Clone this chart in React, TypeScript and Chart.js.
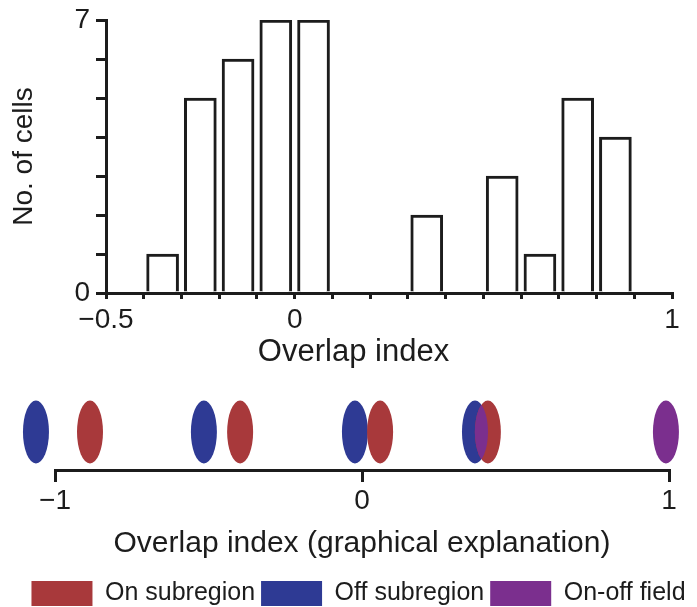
import React, { useEffect, useRef } from "react";
import { Chart, registerables } from "chart.js";

Chart.register(...registerables);

// ---- Histogram of overlap index ----
const binCenters = [-0.45, -0.35, -0.25, -0.15, -0.05, 0.05, 0.15, 0.25, 0.35, 0.45, 0.55, 0.65, 0.75, 0.85, 0.95];
const cellCounts = [0, 1, 5, 6, 7, 7, 0, 0, 2, 0, 3, 1, 5, 4, 0];
const histXLabels: Record<string, string> = { "-0.5": "\u22120.5", "0": "0", "1": "1" };
const histYLabels: Record<string, string> = { "0": "0", "7": "7" };

// ---- Graphical explanation: subregion centres along the overlap index ----
const onSubregion = [-0.886, -0.397, 0.059, 0.41];
const offSubregion = [-1.062, -0.515, -0.023, 0.368];
const onOffField = [0.99];
const explXLabels: Record<string, string> = { "-1": "\u22121", "0": "0", "1": "1" };

const FONT = "'Liberation Sans', Arial, Helvetica, sans-serif";
const INK = "#1c1c1c";
const RED = "#a8393b";
const BLUE = "#2e3a94";
const PURPLE = "#7b2f8e";
const RX = 13;
const RY = 31.5;

const labelFor = (map: Record<string, string>) => (v: number | string) => {
  const n = Math.round(Number(v) * 10) / 10;
  const key = String(Object.is(n, -0) ? 0 : n);
  return map[key] ?? "";
};

const ellipsePath = (ctx: CanvasRenderingContext2D, x: number, y: number) => {
  ctx.beginPath();
  ctx.ellipse(x, y, RX, RY, 0, 0, Math.PI * 2);
};

// Draws each field as an upright ellipse; where an On and an Off subregion
// overlap, the shared part is shown in the On-off colour.
const fieldEllipses = {
  id: "fieldEllipses",
  afterDatasetsDraw(chart: any) {
    const { ctx } = chart;
    const pts = (i: number) =>
      chart.getDatasetMeta(i).data.map((p: any) => ({ x: p.x, y: p.y }));
    const on = pts(0);
    const off = pts(1);
    const both = pts(2);
    ctx.save();
    const fillAll = (list: { x: number; y: number }[], color: string) => {
      list.forEach((p) => {
        ellipsePath(ctx, p.x, p.y);
        ctx.fillStyle = color;
        ctx.fill();
      });
    };
    fillAll(off, BLUE);
    fillAll(on, RED);
    fillAll(both, PURPLE);
    off.forEach((b: any) => {
      on.forEach((r: any) => {
        if (Math.abs(b.x - r.x) < 2 * RX - 2) {
          ctx.save();
          ellipsePath(ctx, b.x, b.y);
          ctx.clip();
          ellipsePath(ctx, r.x, r.y);
          ctx.fillStyle = PURPLE;
          ctx.fill();
          ctx.restore();
        }
      });
    });
    ctx.restore();
  },
};

const spacerAxis = (width: number, position: "left" | "right") => ({
  type: "linear" as const,
  position,
  min: -1,
  max: 1,
  ticks: { display: false },
  grid: { display: false },
  border: { display: false },
  afterFit(scale: any) {
    scale.width = width;
    scale.paddingTop = 0;
    scale.paddingBottom = 0;
  },
});

export default function App() {
  const topRef = useRef<HTMLCanvasElement>(null);
  const bottomRef = useRef<HTMLCanvasElement>(null);

  useEffect(() => {
    const hist = new Chart(topRef.current!, {
      type: "bar",
      data: {
        datasets: [
          {
            label: "No. of cells",
            data: binCenters.map((x, i) => ({ x, y: cellCounts[i] })),
            backgroundColor: "#ffffff",
            borderColor: INK,
            borderWidth: (c: any) => (c.raw && c.raw.y > 0 ? 3 : 0),
            barThickness: 32,
          },
        ],
      },
      options: {
        responsive: false,
        animation: false,
        events: [],
        layout: { padding: { left: 10, right: 0, top: 20, bottom: 0 } },
        plugins: {
          legend: { display: false },
          tooltip: { enabled: false },
          title: {
            display: true,
            position: "bottom",
            text: "Overlap index",
            color: INK,
            font: { family: FONT, size: 31, weight: "normal", lineHeight: 1.2 },
            padding: { top: 0, bottom: 7 },
          },
        },
        scales: {
          x: {
            type: "linear",
            min: -0.5,
            max: 1,
            offset: false,
            ticks: {
              stepSize: 0.1,
              autoSkip: false,
              maxRotation: 0,
              color: INK,
              padding: 4,
              font: { family: FONT, size: 28, lineHeight: 1.2 },
              callback: labelFor(histXLabels),
            },
            grid: {
              offset: false,
              drawOnChartArea: false,
              drawTicks: true,
              tickLength: 6,
              lineWidth: 3,
              color: INK,
            },
            border: { display: true, color: INK, width: 3, z: 1 },
            afterFit(scale: any) {
              scale.height = 40.8;
              scale.paddingLeft = 0;
              scale.paddingRight = 0;
            },
          },
          y: {
            type: "linear",
            min: 0,
            max: 7,
            ticks: {
              stepSize: 1,
              autoSkip: false,
              color: INK,
              padding: 6,
              font: { family: FONT, size: 28, lineHeight: 1.2 },
              callback: labelFor(histYLabels),
            },
            grid: {
              drawOnChartArea: false,
              drawTicks: true,
              tickLength: 10,
              lineWidth: 3,
              color: INK,
            },
            border: { display: true, color: INK, width: 3, z: 1 },
            title: {
              display: true,
              text: "No. of cells",
              color: INK,
              font: { family: FONT, size: 28, lineHeight: 1 },
              padding: 0,
            },
            afterFit(scale: any) {
              scale.width = 96;
              scale.paddingTop = 0;
              scale.paddingBottom = 0;
            },
          },
          yRight: spacerAxis(25, "right"),
        },
      },
    } as any);

    const point = (x: number) => ({ x, y: 0 });
    const fieldSet = (label: string, xs: number[], color: string) => ({
      label,
      data: xs.map(point),
      backgroundColor: color,
      borderColor: color,
      borderWidth: 0,
      pointRadius: 0,
      pointHoverRadius: 0,
      showLine: false,
    });

    const expl = new Chart(bottomRef.current!, {
      type: "scatter",
      data: {
        datasets: [
          fieldSet("On subregion", onSubregion, RED),
          fieldSet("Off subregion", offSubregion, BLUE),
          fieldSet("On-off field", onOffField, PURPLE),
        ],
      },
      options: {
        responsive: false,
        animation: false,
        events: [],
        clip: false,
        layout: { padding: { left: 20, right: 0, top: 16, bottom: 0 } },
        plugins: {
          tooltip: { enabled: false },
          legend: {
            display: true,
            position: "bottom",
            labels: {
              boxWidth: 61,
              boxHeight: 25,
              padding: 6,
              color: INK,
              font: { family: FONT, size: 25 },
            },
          },
        },
        scales: {
          x: {
            type: "linear",
            min: -1,
            max: 1,
            ticks: {
              stepSize: 1,
              autoSkip: false,
              maxRotation: 0,
              color: INK,
              padding: 2,
              font: { family: FONT, size: 28, lineHeight: 1.2 },
              callback: labelFor(explXLabels),
            },
            grid: {
              drawOnChartArea: false,
              drawTicks: true,
              tickLength: 12,
              lineWidth: 3,
              color: INK,
            },
            border: { display: true, color: INK, width: 3 },
            title: {
              display: true,
              text: "Overlap index (graphical explanation)",
              color: INK,
              font: { family: FONT, size: 30, lineHeight: 1.2 },
              padding: { top: 0, bottom: 13.5 },
            },
            afterFit(scale: any) {
              scale.height = 105;
              scale.paddingLeft = 0;
              scale.paddingRight = 0;
            },
          },
          y: spacerAxis(35, "left"),
          yRight: spacerAxis(28, "right"),
        },
      },
      plugins: [fieldEllipses],
    } as any);

    return () => {
      hist.destroy();
      expl.destroy();
    };
  }, []);

  return (
    <div
      style={{
        position: "fixed",
        left: 0,
        top: 0,
        width: 697,
        height: 607,
        overflow: "hidden",
        background: "#ffffff",
      }}
    >
      <canvas
        ref={topRef}
        width={697}
        height={378}
        style={{ position: "absolute", left: 0, top: 0 }}
      />
      <canvas
        ref={bottomRef}
        width={697}
        height={238}
        style={{ position: "absolute", left: 0, top: 378 }}
      />
    </div>
  );
}
